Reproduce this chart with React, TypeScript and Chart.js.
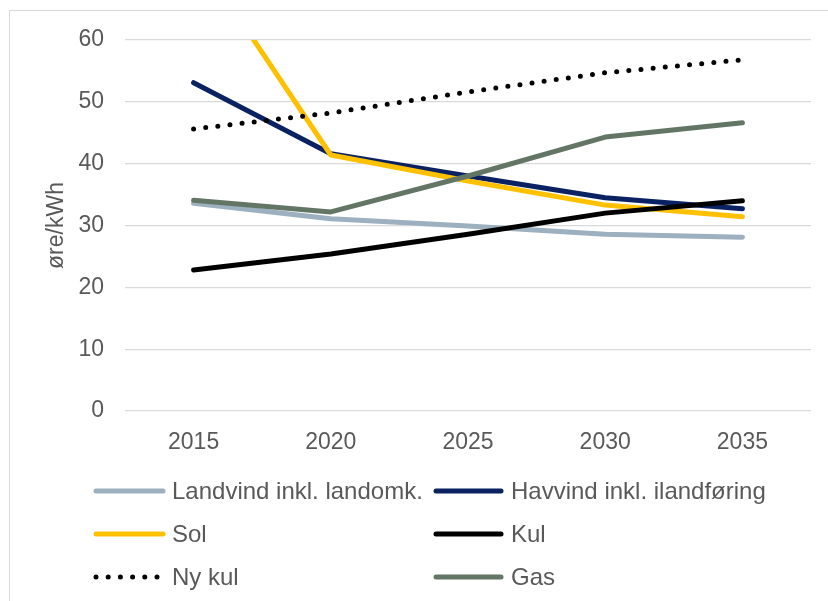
import React, { useEffect, useRef } from "react";
import { Chart, registerables } from "chart.js";

Chart.register(...registerables);

const categories = ["2015", "2020", "2025", "2030", "2035"];
const landvind = [33.6, 31.1, 29.9, 28.6, 28.1];
const havvind = [53.1, 41.6, 38.0, 34.5, 32.7];
const sol = [74.5, 41.4, 37.2, 33.3, 31.4];
const kul = [22.8, 25.4, 28.6, 32.0, 34.0];
const nyKul = [45.6, 48.2, 51.6, 54.7, 56.8];
const gas = [34.1, 32.2, 38.0, 44.3, 46.6];

const seriesNames = [
  "Landvind inkl. landomk.",
  "Havvind inkl. ilandføring",
  "Sol",
  "Kul",
  "Ny kul",
  "Gas",
];
const seriesColors = ["#9cb0bf", "#0a2262", "#ffc000", "#000000", "#000000", "#637665"];
const seriesData = [landvind, havvind, sol, kul, nyKul, gas];
const dotted = [false, false, false, false, true, false];

const yTitle = "øre/kWh";
const FONT = "'Liberation Sans', Arial, Helvetica, sans-serif";
const TEXT = "#595959";

export default function App() {
  const ref = useRef<HTMLCanvasElement | null>(null);

  useEffect(() => {
    if (!ref.current) return;
    const chart = new Chart(ref.current, {
      type: "line",
      data: {
        labels: categories,
        datasets: seriesData.map((d, i) => ({
          label: seriesNames[i],
          data: d,
          borderColor: seriesColors[i],
          backgroundColor: seriesColors[i],
          borderWidth: 5,
          borderCapStyle: "round",
          borderJoinStyle: "round",
          borderDash: dotted[i] ? [0, 12.2] : [],
          pointRadius: 0,
          tension: 0,
          fill: false,
          clip: 0,
          order: 6 - i,
        })),
      },
      options: {
        animation: false,
        responsive: false,
        devicePixelRatio: 1,
        layout: { padding: { left: 0, top: 40, right: 17, bottom: 140 } },
        plugins: { legend: { display: false }, tooltip: { enabled: false } },
        scales: {
          x: {
            offset: true,
            grid: { display: false },
            border: { display: false },
            ticks: { color: TEXT, font: { family: FONT, size: 23 }, padding: 10, maxRotation: 0 },
            afterFit: (s: any) => {
              s.height = 50;
            },
          },
          y: {
            min: 0,
            max: 60,
            grid: { color: "#d9d9d9", lineWidth: 1.3, drawTicks: false },
            border: { display: false },
            ticks: { stepSize: 10, color: TEXT, font: { family: FONT, size: 23 }, padding: 21 },
            title: {
              display: true,
              text: yTitle,
              color: TEXT,
              font: { family: FONT, size: 23 },
              padding: { top: 43, bottom: 0 },
            },
            afterFit: (s: any) => {
              s.width = 125;
            },
          },
        },
      },
    });
    return () => chart.destroy();
  }, []);

  const rows = [491, 534, 577];
  const cols = [
    { x1: 96, x2: 163, text: 172 },
    { x1: 436, x2: 501, text: 511 },
  ];

  return (
    <div style={{ position: "absolute", left: 0, top: 0, width: 828, height: 601, overflow: "hidden", background: "#fff" }}>
      <div
        style={{
          position: "absolute",
          left: 9,
          top: 10,
          width: 840,
          height: 620,
          borderTop: "1px solid #d9d9d9",
          borderLeft: "1px solid #d9d9d9",
        }}
      />
      <canvas ref={ref} width={828} height={601} style={{ position: "absolute", left: 0, top: 0 }} />
      {seriesNames.map((name, i) => {
        const r = rows[Math.floor(i / 2)];
        const c = cols[i % 2];
        return (
          <React.Fragment key={name}>
            <svg
              width={828}
              height={12}
              style={{ position: "absolute", left: 0, top: r - 6 }}
            >
              <line
                x1={c.x1}
                x2={c.x2}
                y1={6}
                y2={6}
                stroke={seriesColors[i]}
                strokeWidth={5}
                strokeLinecap="round"
                strokeDasharray={dotted[i] ? "0 12.2" : undefined}
              />
            </svg>
            <div
              style={{
                position: "absolute",
                left: c.text,
                top: r - 15,
                height: 30,
                lineHeight: "30px",
                fontFamily: FONT,
                fontSize: 24,
                color: TEXT,
                whiteSpace: "nowrap",
              }}
            >
              {name}
            </div>
          </React.Fragment>
        );
      })}
    </div>
  );
}
